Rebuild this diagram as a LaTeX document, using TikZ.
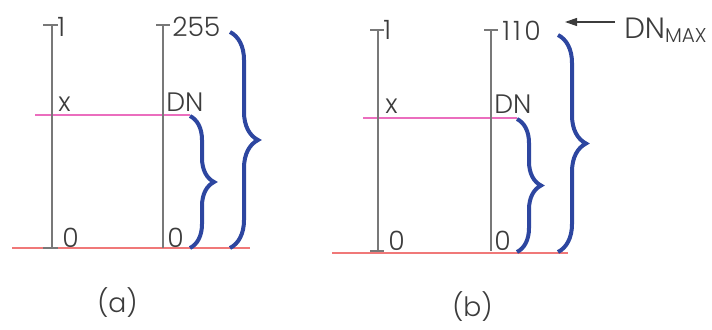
\documentclass[tikz,border=0pt]{standalone}
\usepackage{fontspec}
\setmainfont{Poppins}[UprightFont=* Light]
\usetikzlibrary{decorations.pathreplacing,arrows.meta}
\definecolor{axisgray}{RGB}{120,120,120}
\definecolor{pinkline}{RGB}{235,110,190}
\definecolor{redline}{RGB}{240,120,120}
\definecolor{braceblue}{RGB}{45,70,160}
\definecolor{txt}{RGB}{60,60,60}
\tikzset{
  axisline/.style={draw=axisgray, line width=0.9pt},
  pinkl/.style={draw=pinkline, line width=0.9pt},
  redl/.style={draw=redline, line width=0.9pt},
  bracel/.style={draw=braceblue, line width=3pt, decorate, decoration={brace, amplitude=#1}},
  lbl/.style={text=txt, inner sep=0pt, anchor=base west, font=\fontsize{20}{22}\selectfont},
}
\begin{document}
\begin{tikzpicture}[x=0.75pt,y=0.75pt]
\useasboundingbox (0,0) rectangle (712,-329);
% ---------- panel (a)
\draw[redl] (12,-248) coordinate (ra1) -- (250,-248) coordinate (ra2);
\draw[pinkl] (35,-115) coordinate (pa1) -- (190,-115) coordinate (pa2);
\draw[axisline] (52,-25) coordinate (la_t) -- (52,-248) coordinate (la_b);
\draw[axisline] (43,-25) -- (58,-25);
\draw[axisline] (43,-248) -- (58,-248);
\draw[axisline] (163,-25) coordinate (rat) -- (163,-248) coordinate (rab);
\draw[axisline] (156,-25) -- (170,-25);
\node[lbl] (a1) at (57,-36) {1};
\node[lbl] (ax) at (58,-111) {x};
\node[lbl] (a0) at (62,-247) {0};
\node[lbl] (a255) at (172,-36) {255};
\node[lbl] (aDN) at (166,-111) {DN};
\node[lbl] (a0b) at (167,-247) {0};
\coordinate (bsa1) at (190,-116);
\coordinate (bsa2) at (190,-248);
\coordinate (bla1) at (230,-32);
\coordinate (bla2) at (230,-248);
\draw[bracel=18pt] (bsa1) -- (bsa2);
\draw[bracel=21pt] (bla1) -- (bla2);
\node[lbl] (capa) at (97,-312) {(a)};
% ---------- panel (b)
\draw[redl] (332,-253) coordinate (rb1) -- (568,-253) coordinate (rb2);
\draw[pinkl] (363,-118) coordinate (pb1) -- (517,-118) coordinate (pb2);
\draw[axisline] (378,-30) coordinate (lb_t) -- (378,-251) coordinate (lb_b);
\draw[axisline] (370,-30) -- (384,-30);
\draw[axisline] (370,-251) -- (384,-251);
\draw[axisline] (491,-30) coordinate (rbt) -- (491,-251) coordinate (rbb);
\draw[axisline] (484,-30) -- (498,-30);
\node[lbl] (b1) at (383,-39) {1};
\node[lbl] (bx) at (385,-113) {x};
\node[lbl] (b0) at (388,-250) {0};
\node[lbl] (b110) at (502,-40) {\addfontfeature{LetterSpace=12}110};
\node[lbl] (bDN) at (494,-113) {DN};
\node[lbl] (b0b) at (494,-250) {0};
\node[lbl, font=\fontsize{22}{24}\selectfont] (dnmax) at (624,-38) {DN\textsubscript{\fontsize{15}{15}\selectfont MAX}};
\coordinate (arr2) at (565,-22);
\draw[draw=txt, line width=0.9pt, -{Triangle[length=9pt,width=6pt]}] (dnmax.west |- arr2) ++(-9,0) coordinate (arr1) -- (arr2);
\coordinate (bsb1) at (517,-119);
\coordinate (bsb2) at (517,-252);
\coordinate (blb1) at (558,-35);
\coordinate (blb2) at (558,-252);
\draw[bracel=18pt] (bsb1) -- (bsb2);
\draw[bracel=21pt] (blb1) -- (blb2);
\node[lbl] (capb) at (452,-316) {(b)};
\end{tikzpicture}
\end{document}
